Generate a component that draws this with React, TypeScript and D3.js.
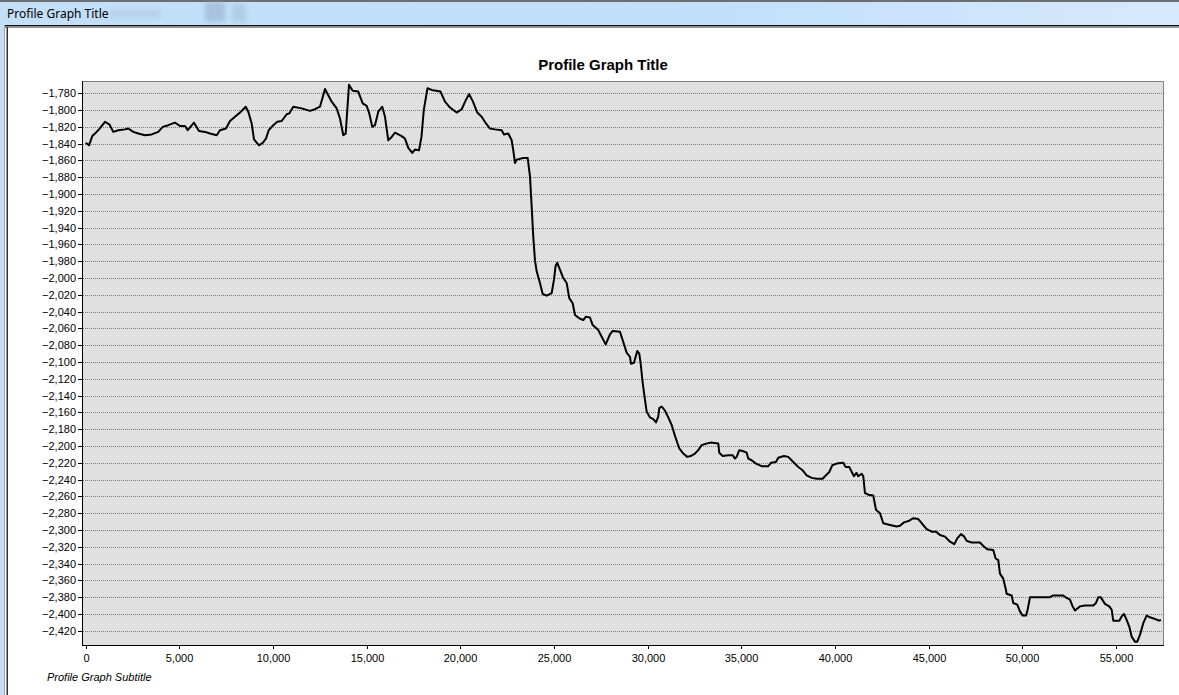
import React, { useEffect, useRef } from "react";
import * as d3 from "d3";

const chartTitle = "Profile Graph Title";
const chartSubtitle = "Profile Graph Subtitle";
const windowTitle = "Profile Graph Title";

const xTicks = [0, 5000, 10000, 15000, 20000, 25000, 30000, 35000, 40000, 45000, 50000, 55000];
const yTicks = d3.range(-1780, -2421, -20);

const distances = [
  0, 176, 352, 496, 710, 1030, 1260, 1473, 1740, 2098, 2274, 2541, 2808, 3165, 3523, 3875, 4110, 4409, 4767, 5034,
  5301, 5445, 5781, 6048, 6368, 6635, 6993, 7169, 7489, 7703, 7970, 8237, 8541, 8680, 8861, 8984, 9251, 9448, 9624, 9769,
  10014, 10228, 10462, 10729, 10868, 11082, 11530, 11973, 12240, 12507, 12774, 13131, 13398, 13575, 13751, 13879, 14055, 14252, 14551, 14786,
  15000, 15138, 15299, 15443, 15619, 15833, 15977, 16153, 16334, 16511, 16868, 17044, 17220, 17434, 17578, 17792, 17925, 18048, 18245, 18469,
  18939, 19180, 19447, 19804, 20071, 20274, 20471, 20674, 20904, 21138, 21368, 21582, 21849, 22206, 22329, 22558, 22740, 22825, 22916, 23007,
  23359, 23594, 23717, 23807, 23893, 23984, 24074, 24250, 24395, 24608, 24875, 24998, 25089, 25174, 25318, 25494, 25676, 25815, 25996, 26119,
  26348, 26562, 26706, 26920, 27064, 27363, 27544, 27758, 27987, 28131, 28521, 28665, 28879, 29055, 29108, 29268, 29444, 29551, 29626, 29733,
  29856, 29946, 30122, 30299, 30443, 30565, 30619, 30747, 30923, 31099, 31281, 31457, 31686, 31900, 32113, 32295, 32524, 32701, 32882, 33149,
  33363, 33768, 33822, 34003, 34302, 34537, 34660, 34750, 34889, 35071, 35284, 35370, 35551, 35781, 36085, 36437, 36581, 36848, 36971, 37275,
  37505, 37772, 38039, 38273, 38487, 38754, 39021, 39341, 39464, 39693, 39854, 40088, 40441, 40569, 40761, 40943, 41012, 41145, 41241, 41423,
  41508, 41599, 41775, 42042, 42186, 42400, 42576, 42934, 43291, 43467, 43681, 43964, 44177, 44444, 44626, 44893, 45160, 45389, 45603, 45870,
  46137, 46366, 46526, 46724, 46900, 47028, 47295, 47738, 47914, 48127, 48448, 48576, 48715, 48805, 48981, 49110, 49163, 49430, 49515, 49729,
  49873, 50017, 50193, 50284, 50407, 50765, 51474, 51650, 52184, 52366, 52542, 52686, 52809, 53076, 53343, 53786, 53930, 54053, 54181, 54410,
  54640, 54768, 54853, 55174, 55302, 55424, 55569, 55707, 55835, 56012, 56134, 56279, 56455, 56636, 56812, 57079, 57308, 57399,
];

const elevations = [
  -1839, -1842, -1831, -1828, -1823, -1814, -1817, -1826, -1824, -1823, -1822, -1826, -1828, -1830, -1829, -1826, -1820, -1818, -1815, -1819,
  -1819, -1824, -1815, -1825, -1826, -1828, -1830, -1824, -1822, -1813, -1808, -1803, -1796, -1802, -1816, -1835, -1842, -1839, -1834, -1824,
  -1818, -1814, -1813, -1805, -1804, -1796, -1798, -1801, -1799, -1796, -1775, -1790, -1798, -1810, -1830, -1828, -1770, -1777, -1778, -1792,
  -1795, -1804, -1820, -1818, -1802, -1796, -1808, -1836, -1832, -1827, -1831, -1834, -1845, -1851, -1847, -1848, -1832, -1800, -1774, -1776,
  -1778, -1790, -1797, -1803, -1799, -1789, -1781, -1790, -1803, -1808, -1816, -1822, -1823, -1824, -1829, -1828, -1836, -1848, -1863, -1859,
  -1857, -1857, -1879, -1915, -1951, -1979, -1992, -2006, -2019, -2021, -2018, -2002, -1985, -1982, -1990, -2000, -2006, -2024, -2030, -2044,
  -2048, -2050, -2046, -2047, -2056, -2062, -2070, -2079, -2067, -2063, -2064, -2074, -2089, -2094, -2102, -2101, -2087, -2090, -2102, -2125,
  -2145, -2159, -2166, -2168, -2172, -2165, -2155, -2153, -2158, -2166, -2175, -2188, -2203, -2209, -2213, -2212, -2209, -2205, -2199, -2197,
  -2196, -2197, -2208, -2212, -2211, -2211, -2215, -2213, -2205, -2206, -2208, -2215, -2217, -2221, -2224, -2224, -2220, -2219, -2214, -2212,
  -2213, -2219, -2225, -2229, -2235, -2238, -2239, -2239, -2236, -2231, -2223, -2221, -2220, -2225, -2225, -2233, -2236, -2232, -2236, -2233,
  -2236, -2256, -2258, -2259, -2276, -2280, -2292, -2294, -2296, -2295, -2291, -2289, -2286, -2287, -2292, -2299, -2302, -2302, -2306, -2308,
  -2314, -2317, -2310, -2305, -2308, -2313, -2315, -2315, -2319, -2323, -2324, -2334, -2336, -2352, -2358, -2370, -2376, -2378, -2387, -2389,
  -2397, -2402, -2402, -2395, -2380, -2380, -2380, -2378, -2378, -2381, -2383, -2391, -2396, -2391, -2390, -2390, -2387, -2380, -2380, -2388,
  -2391, -2395, -2408, -2408, -2403, -2400, -2407, -2415, -2427, -2433, -2433, -2425, -2411, -2402, -2404, -2406, -2408, -2407,
];

const W = 1179;
const H = 695;
const plot = { left: 82, top: 81, right: 1164, bottom: 645 };
const xDomain = [-197, 57562];
const yDomain = [-2437, -1765.4];

export default function App() {
  const ref = useRef<SVGSVGElement | null>(null);

  useEffect(() => {
    const svg = d3.select(ref.current);
    svg.selectAll("*").remove();

    const defs = svg.append("defs");
    const grad = defs.append("linearGradient").attr("id", "tb").attr("x1", "0").attr("x2", "1").attr("y1", "0").attr("y2", "0");
    grad.append("stop").attr("offset", "0").attr("stop-color", "#c3def7");
    grad.append("stop").attr("offset", "0.6").attr("stop-color", "#c1dffa");
    grad.append("stop").attr("offset", "1").attr("stop-color", "#d7e9fc");
    const blur = defs.append("filter").attr("id", "bl").attr("x", "-50%").attr("y", "-50%").attr("width", "200%").attr("height", "200%");
    blur.append("feGaussianBlur").attr("stdDeviation", 2.5);

    // window chrome
    svg.append("rect").attr("x", 0).attr("y", 0).attr("width", W).attr("height", H).attr("fill", "#ffffff");
    svg.append("rect").attr("x", 0).attr("y", 0).attr("width", W).attr("height", 25).attr("fill", "url(#tb)");
    svg.append("rect").attr("x", 0).attr("y", 0).attr("width", W).attr("height", 2).attr("fill", "#6a6f76");
    const ghost = svg.append("g").attr("filter", "url(#bl)").attr("opacity", 0.45);
    ghost.append("rect").attr("x", 205).attr("y", 2).attr("width", 20).attr("height", 20).attr("fill", "#8aa2bd");
    ghost.append("rect").attr("x", 232).attr("y", 4).attr("width", 14).attr("height", 18).attr("fill", "#9fb6cf");
    ghost.append("rect").attr("x", 110).attr("y", 10).attr("width", 50).attr("height", 8).attr("fill", "#a9bfd6");
    svg.append("text").attr("x", 7).attr("y", 18).attr("font-family", "'Noto Sans', 'Open Sans', sans-serif").attr("font-size", 12).attr("fill", "#000").text(windowTitle);
    svg.append("rect").attr("x", 0).attr("y", 25).attr("width", W).attr("height", 1.5).attr("fill", "#111");
    svg.append("rect").attr("x", 0).attr("y", 27).attr("width", W).attr("height", 1).attr("fill", "#9a9a9a");
    svg.append("rect").attr("x", 0).attr("y", 25).attr("width", 4).attr("height", H - 25).attr("fill", "#c6def5");
    svg.append("rect").attr("x", 4).attr("y", 25).attr("width", 1).attr("height", H - 25).attr("fill", "#9aa5b0");
    svg.append("rect").attr("x", 6.5).attr("y", 27).attr("width", 1.5).attr("height", H - 27).attr("fill", "#333");

    const x = d3.scaleLinear().domain(xDomain).range([plot.left, plot.right]);
    const y = d3.scaleLinear().domain(yDomain).range([plot.bottom, plot.top]);

    const font = "'Liberation Sans', Arial, sans-serif";

    svg.append("rect").attr("x", plot.left).attr("y", plot.top).attr("width", plot.right - plot.left).attr("height", plot.bottom - plot.top).attr("fill", "#e0e0e0");

    const g = svg.append("g");
    g.selectAll("line.grid").data(yTicks).enter().append("line")
      .attr("x1", plot.left + 1).attr("x2", plot.right)
      .attr("y1", (d) => Math.round(y(d)) + 0.5).attr("y2", (d) => Math.round(y(d)) + 0.5)
      .attr("stroke", "#7a7a7a").attr("stroke-width", 1).attr("stroke-dasharray", "1,1");

    svg.append("path")
      .attr("d", `M${plot.left},${plot.top + 0.5}H${plot.right - 0.5}V${plot.bottom}`)
      .attr("fill", "none").attr("stroke", "#808080").attr("stroke-width", 1);

    svg.append("line").attr("x1", plot.left + 0.5).attr("x2", plot.left + 0.5).attr("y1", plot.top).attr("y2", plot.bottom + 0.5).attr("stroke", "#000");
    svg.append("line").attr("x1", plot.left).attr("x2", plot.right).attr("y1", plot.bottom + 0.5).attr("y2", plot.bottom + 0.5).attr("stroke", "#000");

    const yt = svg.append("g");
    yTicks.forEach((t) => {
      const py = Math.round(y(t)) + 0.5;
      yt.append("line").attr("x1", plot.left - 4).attr("x2", plot.left).attr("y1", py).attr("y2", py).attr("stroke", "#000");
      yt.append("text").attr("x", plot.left - 6).attr("y", py).attr("dy", "0.35em").attr("text-anchor", "end")
        .attr("font-family", font).attr("font-size", 11).attr("fill", "#000").text(d3.format(",")(t));
    });

    const xt = svg.append("g");
    xTicks.forEach((t) => {
      const px = Math.round(x(t)) + 0.5;
      xt.append("line").attr("x1", px).attr("x2", px).attr("y1", plot.bottom).attr("y2", plot.bottom + 4).attr("stroke", "#000");
      xt.append("text").attr("x", px).attr("y", 662).attr("text-anchor", "middle")
        .attr("font-family", font).attr("font-size", 11).attr("fill", "#000").text(d3.format(",")(t));
    });

    const pts = distances.map((d, i) => [d, elevations[i]] as [number, number]);
    const line = d3.line<[number, number]>().x((d) => x(d[0])).y((d) => y(d[1]));
    svg.append("path").attr("d", line(pts) as string).attr("fill", "none").attr("stroke", "#000").attr("stroke-width", 2).attr("stroke-linejoin", "round");

    svg.append("text").attr("x", 603).attr("y", 70).attr("text-anchor", "middle")
      .attr("font-family", font).attr("font-size", 15).attr("font-weight", "bold").attr("fill", "#000").text(chartTitle);
    svg.append("text").attr("x", 47).attr("y", 681)
      .attr("font-family", font).attr("font-size", 11).attr("font-style", "italic").attr("fill", "#000").text(chartSubtitle);
  }, []);

  return (
    <div style={{ position: "fixed", left: 0, top: 0, width: W, height: H, overflow: "hidden" }}>
      <svg ref={ref} width={W} height={H} style={{ display: "block" }} />
    </div>
  );
}
